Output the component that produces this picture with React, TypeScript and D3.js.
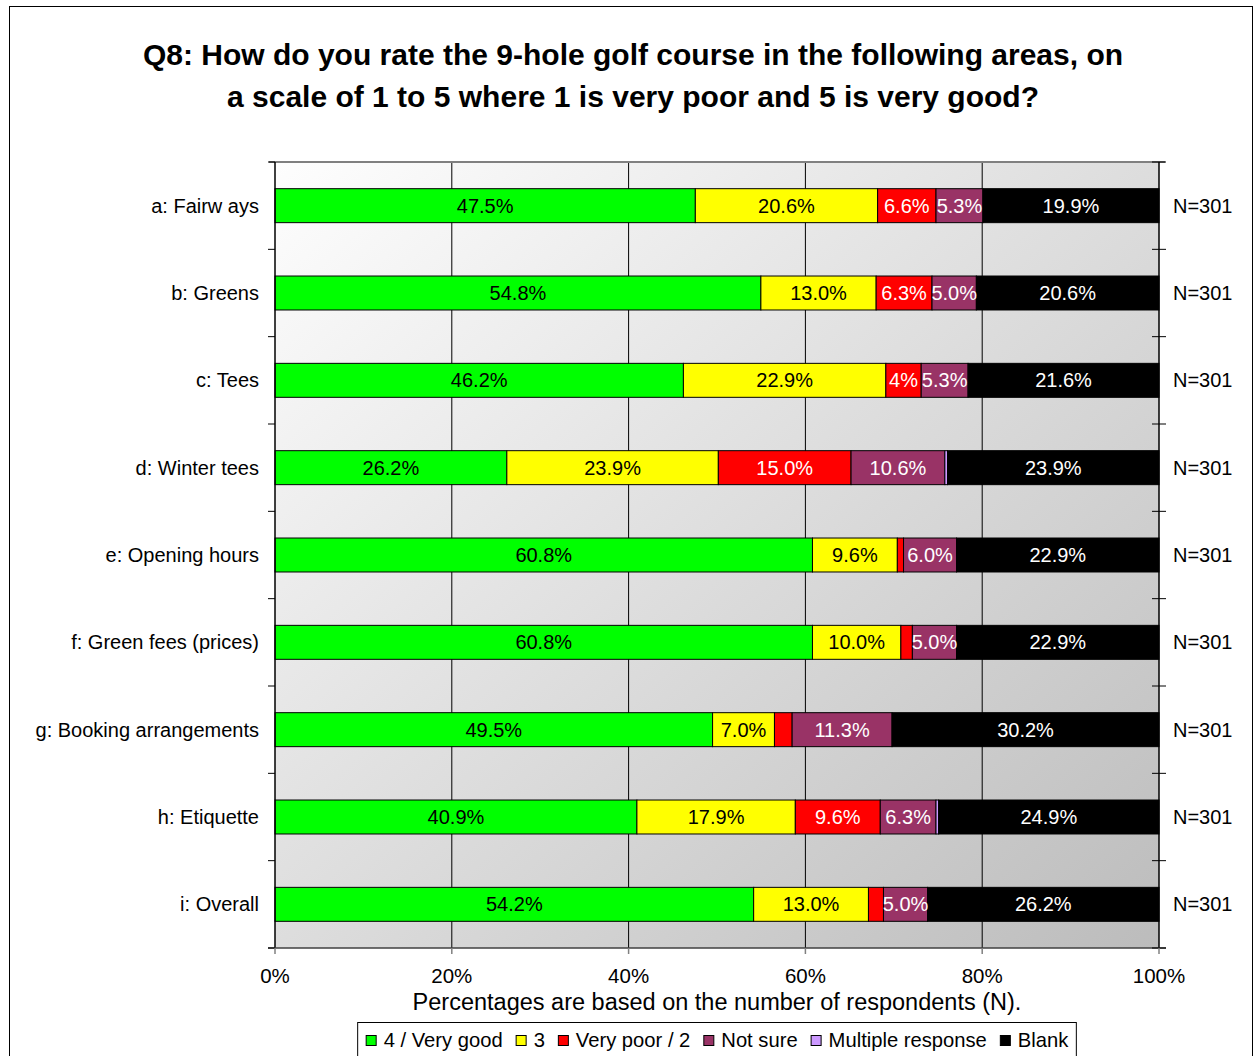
import React from "react";
import * as d3 from "d3";

const categories = [
  "a: Fairw ays",
  "b: Greens",
  "c: Tees",
  "d: Winter tees",
  "e: Opening hours",
  "f: Green fees (prices)",
  "g: Booking arrangements",
  "h: Etiquette",
  "i: Overall",
];
const seriesNames = ["4 / Very good", "3", "Very poor / 2", "Not sure", "Multiple response", "Blank"];
const seriesColors = ["#00FF00", "#FFFF00", "#FF0000", "#993366", "#CC99FF", "#000000"];
const labelColors = ["#000000", "#000000", "#FFFFFF", "#FFFFFF", "#FFFFFF", "#FFFFFF"];

const veryGood = [47.5, 54.8, 46.2, 26.2, 60.8, 60.8, 49.5, 40.9, 54.2];
const three = [20.6, 13.0, 22.9, 23.9, 9.6, 10.0, 7.0, 17.9, 13.0];
const veryPoor = [6.6, 6.3, 4.0, 15.0, 0.7, 1.3, 2.0, 9.6, 1.7];
const notSure = [5.3, 5.0, 5.3, 10.6, 6.0, 5.0, 11.3, 6.3, 5.0];
const multiple = [0, 0, 0, 0.3, 0, 0, 0, 0.3, 0];
const blank = [19.9, 20.6, 21.6, 23.9, 22.9, 22.9, 30.2, 24.9, 26.2];
const nLabels = ["N=301", "N=301", "N=301", "N=301", "N=301", "N=301", "N=301", "N=301", "N=301"];
const xTicks = [0, 0.2, 0.4, 0.6, 0.8, 1];

const titleLines = [
  "Q8: How do you rate the 9-hole golf course in the following areas, on",
  "a scale of 1 to 5 where 1 is very poor and 5 is very good?",
];
const axisTitle = "Percentages are based on the number of respondents (N).";

const FONT = "'Liberation Sans', Arial, sans-serif";
const W = 1255;
const H = 1056;
const PL = 275, PR = 1159, PT = 162, PB = 948;

let ctx: CanvasRenderingContext2D | null = null;
function measure(text: string, size: number, weight = "normal") {
  if (!ctx) ctx = document.createElement("canvas").getContext("2d");
  if (!ctx) return text.length * size * 0.55;
  ctx.font = `${weight} ${size}px 'Liberation Sans', Arial, sans-serif`;
  return ctx.measureText(text).width;
}

export default function App() {
  const seriesData = [veryGood, three, veryPoor, notSure, multiple, blank];
  const keys = seriesNames;
  const rows = categories.map((c, i) => {
    const r: any = { cat: c };
    keys.forEach((k, j) => (r[k] = seriesData[j][i]));
    return r;
  });
  const stacked = d3.stack<any>().keys(keys).offset(d3.stackOffsetExpand)(rows);

  const x = d3.scaleLinear().domain([0, 1]).range([PL, PR]);
  const y = d3
    .scaleBand<string>()
    .domain(categories)
    .range([PT, PB])
    .paddingInner(0.611)
    .paddingOuter(0.3055);
  const step = y.step();
  const bw = y.bandwidth();
  const boundaries = d3.range(categories.length + 1).map((i) => PT + i * step);

  // legend layout
  const LFS = 20.2;
  const sq = 10;
  const gapSqText = 8;
  const gapItem = 13;
  const itemWidths = seriesNames.map((n) => sq + gapSqText + measure(n, LFS));
  const totalW = d3.sum(itemWidths) + gapItem * (seriesNames.length - 1);
  const legendCx = (PL + PR) / 2;
  let lx = legendCx - totalW / 2;
  const legendItems = seriesNames.map((n, i) => {
    const item = { name: n, x: lx, color: seriesColors[i] };
    lx += itemWidths[i] + gapItem;
    return item;
  });
  const legendBoxX = legendItems[0].x - 8;
  const legendBoxW = totalW + 16;

  return (
    <svg
      width={W}
      height={H}
      style={{ position: "absolute", left: 0, top: 0, background: "#fff" }}
      fontFamily={FONT}
    >
      <defs>
        <linearGradient id="plotGrad" x1="0" y1="0" x2="1" y2="1">
          <stop offset="0%" stopColor="#FEFEFE" />
          <stop offset="100%" stopColor="#BCBCBC" />
        </linearGradient>
      </defs>
      <rect x={9.5} y={6.5} width={1243} height={1100} fill="#fff" stroke="#000" strokeWidth={1} />

      {titleLines.map((t, i) => (
        <text
          key={i}
          x={633}
          y={65 + i * 42}
          textAnchor="middle"
          fontSize={30}
          fontWeight="bold"
          fill="#000"
        >
          {t}
        </text>
      ))}

      {/* plot background */}
      <rect x={PL} y={PT} width={PR - PL} height={PB - PT} fill="url(#plotGrad)" />
      {/* gridlines */}
      {xTicks.slice(1, -1).map((t) => (
        <line key={t} x1={x(t)} x2={x(t)} y1={PT} y2={PB} stroke="#000" strokeWidth={1} />
      ))}
      <line x1={PL - 6} x2={PR + 6} y1={PT} y2={PT} stroke="#808080" strokeWidth={2} />

      {/* bars */}
      {stacked.map((s, si) =>
        s.map((d, ci) => {
          const x0 = x(d[0]);
          const x1 = x(d[1]);
          const w = x1 - x0;
          if (w <= 0) return null;
          const yy = y(categories[ci])!;
          return (
            <rect
              key={`${si}-${ci}`}
              x={x0}
              y={yy}
              width={w}
              height={bw}
              fill={seriesColors[si]}
              stroke="#000"
              strokeWidth={1}
            />
          );
        })
      )}
      {stacked.map((s, si) =>
        s.map((d, ci) => {
          const x0 = x(d[0]);
          const x1 = x(d[1]);
          const w = x1 - x0;
          if (w < 25) return null;
          const v = seriesData[si][ci];
          const label = w < 40 ? d3.format(".0f")(v) + "%" : v.toFixed(1) + "%";
          const yy = y(categories[ci])! + bw / 2;
          return (
            <text
              key={`l${si}-${ci}`}
              x={(x0 + x1) / 2}
              y={yy}
              dy="0.35em"
              textAnchor="middle"
              fontSize={20}
              fill={labelColors[si]}
            >
              {label}
            </text>
          );
        })
      )}

      {/* axes */}
      <line x1={PL} x2={PL} y1={PT} y2={PB} stroke="#000" strokeWidth={1.5} />
      <line x1={PR} x2={PR} y1={PT} y2={PB} stroke="#000" strokeWidth={1.5} />
      <line x1={PL - 7} x2={PR + 7} y1={PB} y2={PB} stroke="#404040" strokeWidth={1.5} />
      {boundaries.map((b, i) => (
        <g key={i}>
          <line x1={PL - 7} x2={PL} y1={b} y2={b} stroke="#000" />
          <line x1={PR - 7} x2={PR + 7} y1={b} y2={b} stroke="#000" />
        </g>
      ))}
      {xTicks.map((t) => (
        <g key={t}>
          <line x1={x(t)} x2={x(t)} y1={PB} y2={PB + 6} stroke="#808080" strokeWidth={1.5} />
          <text x={x(t)} y={983} textAnchor="middle" fontSize={20.5} fill="#000">
            {d3.format(".0%")(t)}
          </text>
        </g>
      ))}
      <text x={(PL + PR) / 2} y={1010} textAnchor="middle" fontSize={23.5} fill="#000">
        {axisTitle}
      </text>

      {/* category labels */}
      {categories.map((c) => (
        <text
          key={c}
          x={259}
          y={y(c)! + bw / 2}
          dy="0.35em"
          textAnchor="end"
          fontSize={20}
          fill="#000"
        >
          {c}
        </text>
      ))}
      {categories.map((c, i) => (
        <text key={`n${c}`} x={1173} y={y(c)! + bw / 2} dy="0.35em" fontSize={20} fill="#000">
          {nLabels[i]}
        </text>
      ))}

      {/* legend */}
      <rect x={legendBoxX} y={1022.5} width={legendBoxW} height={60} fill="#fff" stroke="#000" strokeWidth={1} />
      {legendItems.map((it) => (
        <g key={it.name}>
          <rect x={it.x + 0.5} y={1035.5} width={sq} height={sq} fill={it.color} stroke="#000" strokeWidth={1} />
          <text x={it.x + sq + gapSqText} y={1040} dy="0.35em" fontSize={LFS} fill="#000">
            {it.name}
          </text>
        </g>
      ))}
    </svg>
  );
}
